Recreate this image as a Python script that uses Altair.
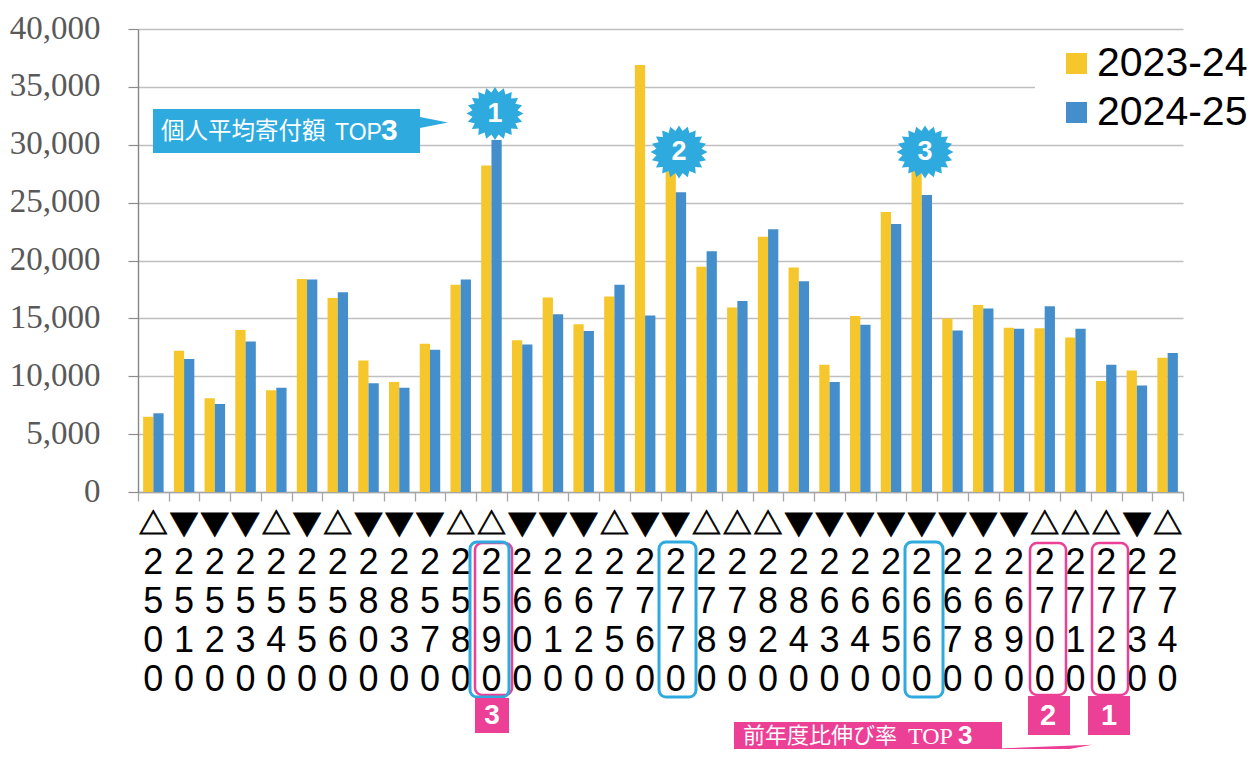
import altair as alt
import pandas as pd
import math

codes = ["2500","2510","2520","2530","2540","2550","2560","2800","2830","2570","2580","2590",
         "2600","2610","2620","2750","2760","2770","2780","2790","2820","2840","2630","2640",
         "2650","2660","2670","2680","2690","2700","2710","2720","2730","2740"]
v2023 = [6500,12200,8100,14000,8800,18400,16750,11350,9500,12800,17900,28200,
         13100,16800,14500,16900,36900,28000,19450,15950,22050,19400,11000,15200,
         24200,28000,15000,16150,14200,14150,13350,9600,10500,11600]
v2024 = [6800,11500,7600,13000,9000,18350,17250,9400,9000,12300,18350,30400,
         12750,15350,13900,17900,15250,25900,20800,16500,22700,18200,9500,14450,
         23150,25650,13950,15850,14100,16050,14100,11000,9200,12000]
marks = ["△","▼","▼","▼","△","▼","△","▼","▼","▼","△","△","▼","▼","▼","△","▼","▼",
         "△","△","△","▼","▼","▼","▼","▼","▼","▼","▼","△","△","△","▼","△"]
series = ["2023-24", "2024-25"]
colors = ["#F5C72C", "#448ECB"]
BLUE, PINK = "#2EAADF", "#EC4096"
OX, OY = 138, 29
W, H = 1045, 463

rows = [{"code": c, "series": s, "value": v}
        for s, vals in zip(series, [v2023, v2024]) for c, v in zip(codes, vals)]
df = pd.DataFrame(rows)
one = pd.DataFrame({"a": [0]})

x_scale = alt.Scale(domain=codes, paddingInner=0, paddingOuter=0)


def rect(x0, y0, x1, y1, fill="white", stroke=None, sw=0, r=0):
    kw = dict(fill=fill, cornerRadius=r)
    if stroke:
        kw = dict(fill=None, filled=False, stroke=stroke, strokeWidth=sw, cornerRadius=r)
    return alt.Chart(one).mark_rect(**kw).encode(
        x=alt.value(x0 - OX), x2=alt.value(x1 - OX),
        y=alt.value(y0 - OY), y2=alt.value(y1 - OY))


def label(s, x, y, size, color="white", font="Noto Sans CJK JP", weight="normal", align="left"):
    return alt.Chart(one).mark_text(text=s, font=font, fontSize=size, color=color,
                                    fontWeight=weight, align=align, baseline="middle").encode(
        x=alt.value(x - OX), y=alt.value(y - OY))


def shape(path, x, y, size, color):
    return alt.Chart(one).mark_point(shape=path, size=size, filled=True, fill=color,
                                     stroke=None, opacity=1).encode(
        x=alt.value(x - OX), y=alt.value(y - OY))


pts = []
for i in range(40):
    a = math.pi * i / 20 - math.pi / 2
    r = 1 if i % 2 == 0 else 0.8
    pts.append(f"{r * math.cos(a):.3f},{0.93 * r * math.sin(a):.3f}")
star_path = "M" + " L".join(pts) + " Z"
tail_blue = "M-1,-0.39 L1,0.0 L-1,0.39 Z"
tail_pink = "M-1,0.03 L1,-0.05 L-0.67,0.27 L-1,0.27 Z"

bars = alt.Chart(df).mark_bar().encode(
    x=alt.X("code:N", scale=x_scale, sort=None, title=None,
            axis=alt.Axis(labels=False, tickBand="extent", tickSize=9, tickColor="#A6A6A6",
                          tickWidth=1.3, domainColor="#A6A6A6", domainWidth=1.5, grid=False)),
    xOffset=alt.XOffset("series:N", sort=series,
                        scale=alt.Scale(paddingInner=0, paddingOuter=0.5)),
    y=alt.Y("value:Q", title=None, scale=alt.Scale(domain=[0, 40000], nice=False),
            axis=alt.Axis(values=list(range(0, 40001, 5000)), format=",d", grid=True,
                          gridColor="#BFBFBF", gridWidth=1.4, tickSize=10, tickColor="#8C8C8C",
                          tickWidth=1.2, domainColor="#868686", domainWidth=1.4,
                          labelFont="Liberation Serif", labelFontSize=33, labelColor="#595959",
                          labelPadding=28, labelOffset=-1)),
    color=alt.Color("series:N", scale=alt.Scale(domain=series, range=colors),
                    legend=alt.Legend(orient="none", legendX=1056 - OX, legendY=43 - OY, title=None,
                                      symbolType="square", symbolSize=441, symbolStrokeWidth=0,
                                      labelFont="Liberation Sans", labelFontSize=41,
                                      labelColor="black", labelOffset=0, rowPadding=7,
                                      labelLimit=300, padding=0)),
)

tri = alt.Chart(pd.DataFrame({"code": codes, "m": marks})).mark_text(
    font="Noto Sans CJK JP", fontSize=29, color="black", baseline="middle",
    stroke="black", strokeWidth=0.8).encode(
    x=alt.X("code:N", scale=x_scale, sort=None), y=alt.value(526 - OY), text="m:N")

digit_rows = [{"code": c, "d": ch, "pos": 563 + 39 * i - OY}
              for c in codes for i, ch in enumerate(c)]
digits = alt.Chart(pd.DataFrame(digit_rows)).mark_text(
    font="Liberation Sans", fontSize=36, color="black", baseline="middle").encode(
    x=alt.X("code:N", scale=x_scale, sort=None),
    y=alt.Y("pos:Q", scale=None), text="d:N")

layers = [rect(1035, 35, 1252, 135), bars, tri, digits,
          rect(475, 543, 512, 695, stroke=PINK, sw=2.5, r=7),
          rect(470, 542, 509, 697, stroke=BLUE, sw=3, r=7),
          rect(659, 542, 696, 697, stroke=BLUE, sw=3, r=7),
          rect(905, 542, 943, 697, stroke=BLUE, sw=3, r=7),
          rect(1030, 543, 1066, 695, stroke=PINK, sw=2.5, r=7),
          rect(1092, 543, 1128, 695, stroke=PINK, sw=2.5, r=7),
          rect(475, 698, 509, 733, fill=PINK), label("3", 492, 716, 28, font="Liberation Sans", weight="bold", align="center"),
          rect(1028, 696, 1070, 735, fill=PINK), label("2", 1048, 716, 29, font="Liberation Sans", weight="bold", align="center"),
          rect(1088, 696, 1130, 735, fill=PINK), label("1", 1109, 716, 29, font="Liberation Sans", weight="bold", align="center"),
          rect(153, 109, 420, 153, fill=BLUE), shape(tail_blue, 434, 122.5, 28 ** 2, BLUE),
          label("個人平均寄付額", 161, 132, 23.5),
          label("TOP", 335, 133, 23, font="Liberation Sans"),
          label("3", 381, 131, 30, font="Liberation Sans", weight="bold"),
          rect(734, 722, 1002, 760, fill=PINK), shape(tail_pink, 1047, 747, 90 ** 2, PINK),
          label("前年度比伸び率", 743, 736, 22),
          label("TOP", 908, 737, 24, font="Liberation Serif"),
          label("3", 958, 736, 26, font="Liberation Sans", weight="bold")]
for n, x, y in [("1", 495, 113.5), ("2", 679, 152), ("3", 925, 152)]:
    layers.append(shape(star_path, x, y, 57 ** 2, BLUE))
    layers.append(label(n, x, y, 27, font="Liberation Sans", weight="bold", align="center"))

chart = alt.layer(*layers).properties(
    width=W, height=H,
    padding={"left": OX - 8, "top": OY - 8, "right": 1252 - OX - W, "bottom": 749 - OY - H},
    autosize=alt.AutoSizeParams(type="none"),
).configure_view(stroke=None)

chart.save("out.html", embed_options={"renderer": "svg", "actions": False})
